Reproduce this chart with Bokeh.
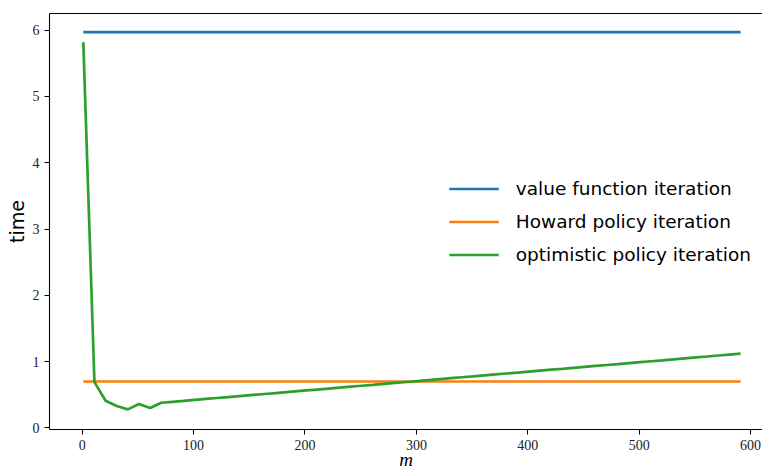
from bokeh.plotting import figure
from bokeh.models import Range1d, FixedTicker, LinearAxis, Legend, LegendItem
from bokeh.embed import file_html
from bokeh.resources import INLINE

# ---- data ----
m = list(range(1, 600, 10))          # m = 1, 11, ..., 591
vfi_time = 5.97                      # value function iteration
hpi_time = 0.70                      # Howard policy iteration
opi_time = [                         # optimistic policy iteration
    5.82, 0.69, 0.41, 0.33, 0.28, 0.36, 0.30, 0.38,
    0.394, 0.408, 0.423, 0.437, 0.451, 0.465, 0.480, 0.494,
    0.508, 0.522, 0.537, 0.551, 0.565, 0.579, 0.593,
    0.608, 0.622, 0.636, 0.650, 0.665, 0.679, 0.693,
    0.707, 0.722, 0.736, 0.750, 0.764, 0.778, 0.793,
    0.807, 0.821, 0.835, 0.850, 0.864, 0.878, 0.892,
    0.907, 0.921, 0.935, 0.949, 0.963, 0.978, 0.992,
    1.006, 1.020, 1.035, 1.049, 1.063, 1.077, 1.092,
    1.106, 1.120,
]
labels = ["value function iteration", "Howard policy iteration", "optimistic policy iteration"]
colors = ["#1f77b4", "#ff7f0e", "#2ca02c"]
x_ticks = [0, 100, 200, 300, 400, 500, 600]
y_ticks = [0, 1, 2, 3, 4, 5, 6]

p = figure(width=762, height=472, output_backend="svg", toolbar_location=None,
           x_range=Range1d(-29.35, 610.7), y_range=Range1d(-0.024, 6.252),
           min_border_left=49, min_border_right=0, min_border_top=13, min_border_bottom=43)
p.outline_line_color = None
p.xgrid.grid_line_color = None
p.ygrid.grid_line_color = None
p.background_fill_color = "white"
p.border_fill_color = "white"

tick_font = "Liberation Serif"
for ax in (p.xaxis[0], p.yaxis[0]):
    ax.axis_line_color = "black"
    ax.axis_line_width = 1.1
    ax.major_tick_line_color = "black"
    ax.major_tick_line_width = 1.1
    ax.major_tick_out = 5
    ax.major_tick_in = 0
    ax.minor_tick_line_color = None
    ax.major_label_text_font = tick_font
    ax.major_label_text_font_size = "14px"
    ax.major_label_text_color = "#222222"
    ax.major_label_standoff = 5

p.xaxis.ticker = FixedTicker(ticks=x_ticks)
p.yaxis.ticker = FixedTicker(ticks=y_ticks)

p.yaxis.axis_label = "time"
p.yaxis.axis_label_text_font = "DejaVu Sans"
p.yaxis.axis_label_text_font_style = "normal"
p.yaxis.axis_label_text_font_size = "19px"
p.yaxis.axis_label_text_color = "black"
p.yaxis.axis_label_standoff = 2

p.xaxis.axis_label = "m"
p.xaxis.axis_label_text_font = "Liberation Serif"
p.xaxis.axis_label_text_font_style = "italic"
p.xaxis.axis_label_text_font_size = "19px"
p.xaxis.axis_label_text_color = "black"
p.xaxis.axis_label_standoff = -4

# top spine (an axis without ticks or labels)
top = LinearAxis(ticker=FixedTicker(ticks=[]), axis_line_color="black", axis_line_width=1.1,
                 major_tick_line_color=None, minor_tick_line_color=None,
                 major_tick_out=0, major_tick_in=0, minor_tick_out=0, minor_tick_in=0,
                 major_label_standoff=0)
p.add_layout(top, "above")

r_vfi = p.line(m, [vfi_time] * len(m), line_color=colors[0], line_width=2.7)
r_hpi = p.line(m, [hpi_time] * len(m), line_color=colors[1], line_width=2.7)
r_opi = p.line(m, opi_time, line_color=colors[2], line_width=2.7)

legend = Legend(items=[LegendItem(label=labels[0], renderers=[r_vfi]),
                       LegendItem(label=labels[1], renderers=[r_hpi]),
                       LegendItem(label=labels[2], renderers=[r_opi])],
                location="center_right", background_fill_alpha=0, border_line_color=None,
                glyph_width=50, glyph_height=20, label_height=20, spacing=12,
                label_standoff=17, padding=4, margin=11,
                label_text_font="DejaVu Sans", label_text_font_size="18.5px",
                label_text_color="black")
p.add_layout(legend)

open("out.html", "w").write(file_html(p, INLINE))
